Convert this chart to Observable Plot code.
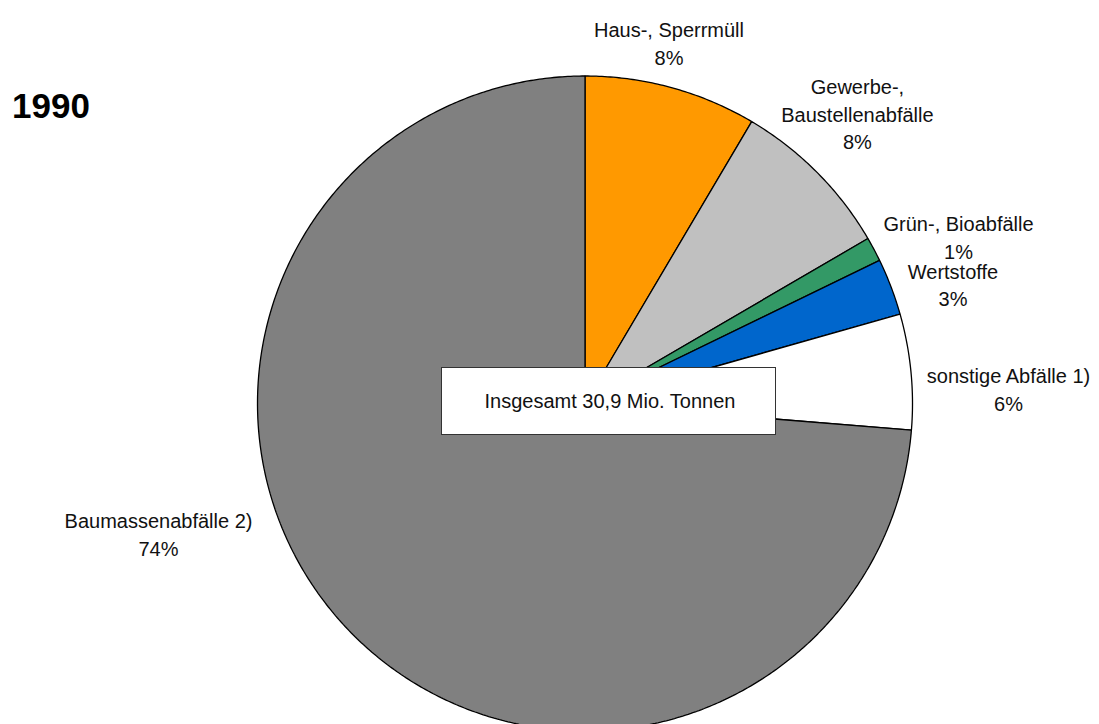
<!DOCTYPE html>
<html>
<head>
<meta charset="utf-8">
<script src="https://cdn.jsdelivr.net/npm/d3@7"></script>
<script src="https://cdn.jsdelivr.net/npm/@observablehq/plot@0.6"></script>
<style>
  html, body { margin: 0; padding: 0; background: #ffffff; }
  body { font-family: "Liberation Sans", Arial, sans-serif; }
  #wrap { position: relative; width: 1099px; height: 724px; overflow: hidden; }
  #title { position: absolute; left: 12px; top: 88px; font-size: 35px; line-height: 35px; font-weight: bold; color: #000; }
  #total { position: absolute; left: 441px; top: 367px; width: 335px; height: 68px; box-sizing: border-box;
           border: 1px solid #333; background: #fff; display: flex; align-items: center; justify-content: center;
           font-size: 20px; color: #111; padding-left: 3px; }
</style>
</head>
<body>
<div id="wrap">
  <div id="chart"></div>
  <div id="title">1990</div>
  <div id="total">Insgesamt 30,9 Mio. Tonnen</div>
</div>
<script>
// ---- data ----
const categories = ["Haus-, Sperrmüll", "Gewerbe-,\nBaustellenabfälle", "Grün-, Bioabfälle", "Wertstoffe", "sonstige Abfälle 1)", "Baumassenabfälle 2)"];
const shares = [8.5, 8.1, 1.2, 2.8, 5.7, 73.7];
const shareLabels = ["8%", "8%", "1%", "3%", "6%", "74%"];

// ---- styles / layout ----
const sliceColors = ["#FF9900", "#C0C0C0", "#339966", "#0066CC", "#FFFFFF", "#808080"];
const W = 1099, H = 724;
const cx = 584.5, cy = 403, r = 327.5;           // pie centre & radius in pixels
const labelRadius = 1.18;                          // label anchor radius (pie radii)
const labelNudge = [[-18, 11.6], [-1.7, -18.4], [32.6, 14.5], [6.9, 17.8], [38.9, 22.2], [-142.3, -132.3]];

const arcs = d3.pie().sort(null).value(d => d)(shares);

const sliceMarks = arcs.map((a, i) => {
  const pts = [{x: 0, y: 0}];
  const n = Math.max(4, Math.ceil((a.endAngle - a.startAngle) / (Math.PI / 360)));
  for (let k = 0; k <= n; k++) {
    const t = a.startAngle + (a.endAngle - a.startAngle) * k / n;
    pts.push({x: Math.sin(t), y: Math.cos(t)});
  }
  return Plot.line(pts, {x: "x", y: "y", fill: sliceColors[i], stroke: "#000", strokeWidth: 1.3,
                         strokeLinejoin: "miter", curve: "linear-closed"});
});

const labelData = arcs.map((a, i) => {
  const mid = (a.startAngle + a.endAngle) / 2;
  return {
    x: Math.sin(mid) * labelRadius + labelNudge[i][0] / r,
    y: Math.cos(mid) * labelRadius - labelNudge[i][1] / r,
    text: categories[i] + "\n" + shareLabels[i]
  };
});

const chart = Plot.plot({
  width: W, height: H,
  margin: 0,
  x: {domain: [-cx / r, (W - cx) / r], axis: null},
  y: {domain: [-(H - cy) / r, cy / r], axis: null},
  style: {fontFamily: "'Liberation Sans', Arial, sans-serif", background: "transparent"},
  marks: [
    ...sliceMarks,
    Plot.text(labelData, {x: "x", y: "y", text: "text", fontSize: 20, lineHeight: 1.38,
                          textAnchor: "middle", fill: "#111"})
  ]
});
document.getElementById("chart").appendChild(chart);
</script>
</body>
</html>
